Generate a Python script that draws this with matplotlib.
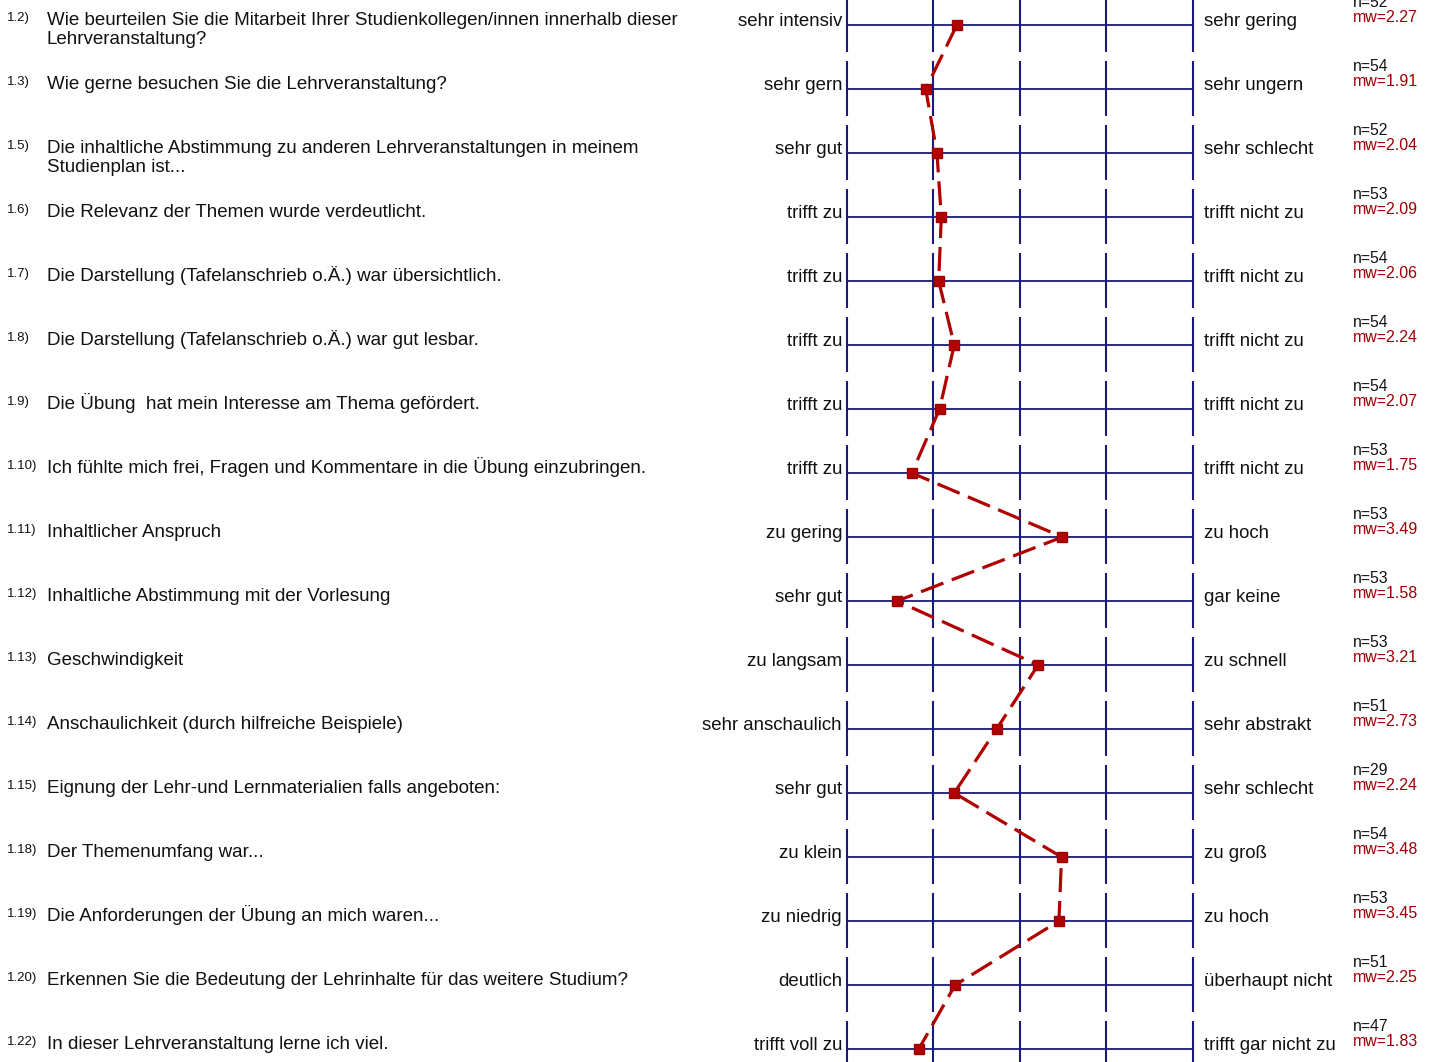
import matplotlib
matplotlib.use("Agg")
import matplotlib.pyplot as plt
from matplotlib.transforms import blended_transform_factory

plt.rcParams['font.family'] = ['Liberation Sans', 'DejaVu Sans']

numbers = ["1.2)", "1.3)", "1.5)", "1.6)", "1.7)", "1.8)", "1.9)", "1.10)", "1.11)",
           "1.12)", "1.13)", "1.14)", "1.15)", "1.18)", "1.19)", "1.20)", "1.22)"]
questions = [
    "Wie beurteilen Sie die Mitarbeit Ihrer Studienkollegen/innen innerhalb dieser\nLehrveranstaltung?",
    "Wie gerne besuchen Sie die Lehrveranstaltung?",
    "Die inhaltliche Abstimmung zu anderen Lehrveranstaltungen in meinem\nStudienplan ist...",
    "Die Relevanz der Themen wurde verdeutlicht.",
    "Die Darstellung (Tafelanschrieb o.Ä.) war übersichtlich.",
    "Die Darstellung (Tafelanschrieb o.Ä.) war gut lesbar.",
    "Die Übung  hat mein Interesse am Thema gefördert.",
    "Ich fühlte mich frei, Fragen und Kommentare in die Übung einzubringen.",
    "Inhaltlicher Anspruch",
    "Inhaltliche Abstimmung mit der Vorlesung",
    "Geschwindigkeit",
    "Anschaulichkeit (durch hilfreiche Beispiele)",
    "Eignung der Lehr-und Lernmaterialien falls angeboten:",
    "Der Themenumfang war...",
    "Die Anforderungen der Übung an mich waren...",
    "Erkennen Sie die Bedeutung der Lehrinhalte für das weitere Studium?",
    "In dieser Lehrveranstaltung lerne ich viel.",
]
left_labels = ["sehr intensiv", "sehr gern", "sehr gut", "trifft zu", "trifft zu", "trifft zu",
               "trifft zu", "trifft zu", "zu gering", "sehr gut", "zu langsam",
               "sehr anschaulich", "sehr gut", "zu klein", "zu niedrig", "deutlich",
               "trifft voll zu"]
right_labels = ["sehr gering", "sehr ungern", "sehr schlecht", "trifft nicht zu",
                "trifft nicht zu", "trifft nicht zu", "trifft nicht zu", "trifft nicht zu",
                "zu hoch", "gar keine", "zu schnell", "sehr abstrakt", "sehr schlecht",
                "zu groß", "zu hoch", "überhaupt nicht", "trifft gar nicht zu"]
n_values = [52, 54, 52, 53, 54, 54, 54, 53, 53, 53, 53, 51, 29, 54, 53, 51, 47]
means = [2.27, 1.91, 2.04, 2.09, 2.06, 2.24, 2.07, 1.75, 3.49, 1.58, 3.21, 2.73,
         2.24, 3.48, 3.45, 2.25, 1.83]
scale_points = [1, 2, 3, 4, 5]

W, H = 1435, 1062
fig = plt.figure(figsize=(W / 100, H / 100), dpi=100)
ax = fig.add_axes([0, 0, 1, 1])
ax.axis('off')

# pixel geometry -> data limits
x1_px, x5_px = 847, 1193
unit = (x5_px - x1_px) / 4.0
row0_px, row_step = 25, 64
ax.set_xlim(1 - x1_px / unit, 1 + (W - x1_px) / unit)
ax.set_ylim((H - row0_px) / row_step, -row0_px / row_step)

rows = list(range(len(means)))
grid_col = '#1a1a7a'
seg_up = 28 / row_step
seg_dn = 27 / row_step
for r in rows:
    ax.plot([scale_points[0], scale_points[-1]], [r, r], color=grid_col, lw=1.3,
            solid_capstyle='butt', zorder=1)
    for s in scale_points:
        ax.plot([s, s], [r - seg_up, r + seg_dn], color=grid_col, lw=1.5,
                solid_capstyle='butt', zorder=1)

ax.plot(means, rows, color='#b00000', lw=2.3, dashes=(7.5, 2.8), zorder=3)
ax.plot(means, rows, linestyle='none', marker='s', ms=7.2, color='#b00000',
        markeredgecolor='#a00000', zorder=4)

tr = blended_transform_factory(fig.transFigure, ax.transData)
fs_q = 13.5
fs = 13.4
px = 1.0 / row_step
for r in rows:
    ax.text(7 / W, r - 4 * px, numbers[r], transform=tr, fontsize=9.5,
            ha='left', va='baseline', color='#111111')
    for i, line in enumerate(questions[r].split('\n')):
        ax.text(47 / W, r + i * 19 * px, line, transform=tr, fontsize=fs_q,
                ha='left', va='baseline', color='#111111')
    ax.text(842 / W, r + 0.5 * px, left_labels[r], transform=tr, fontsize=fs,
            ha='right', va='baseline', color='#111111')
    ax.text(1204 / W, r + 0.5 * px, right_labels[r], transform=tr, fontsize=fs,
            ha='left', va='baseline', color='#111111')
    ax.text(1353 / W, r - 18 * px, f"n={n_values[r]}", transform=tr, fontsize=11.3,
            ha='left', va='baseline', color='#111111')
    ax.text(1353 / W, r - 3 * px, f"mw={means[r]:.2f}", transform=tr, fontsize=11.5,
            ha='left', va='baseline', color='#9a0000')

fig.savefig('out.png', dpi=100)
